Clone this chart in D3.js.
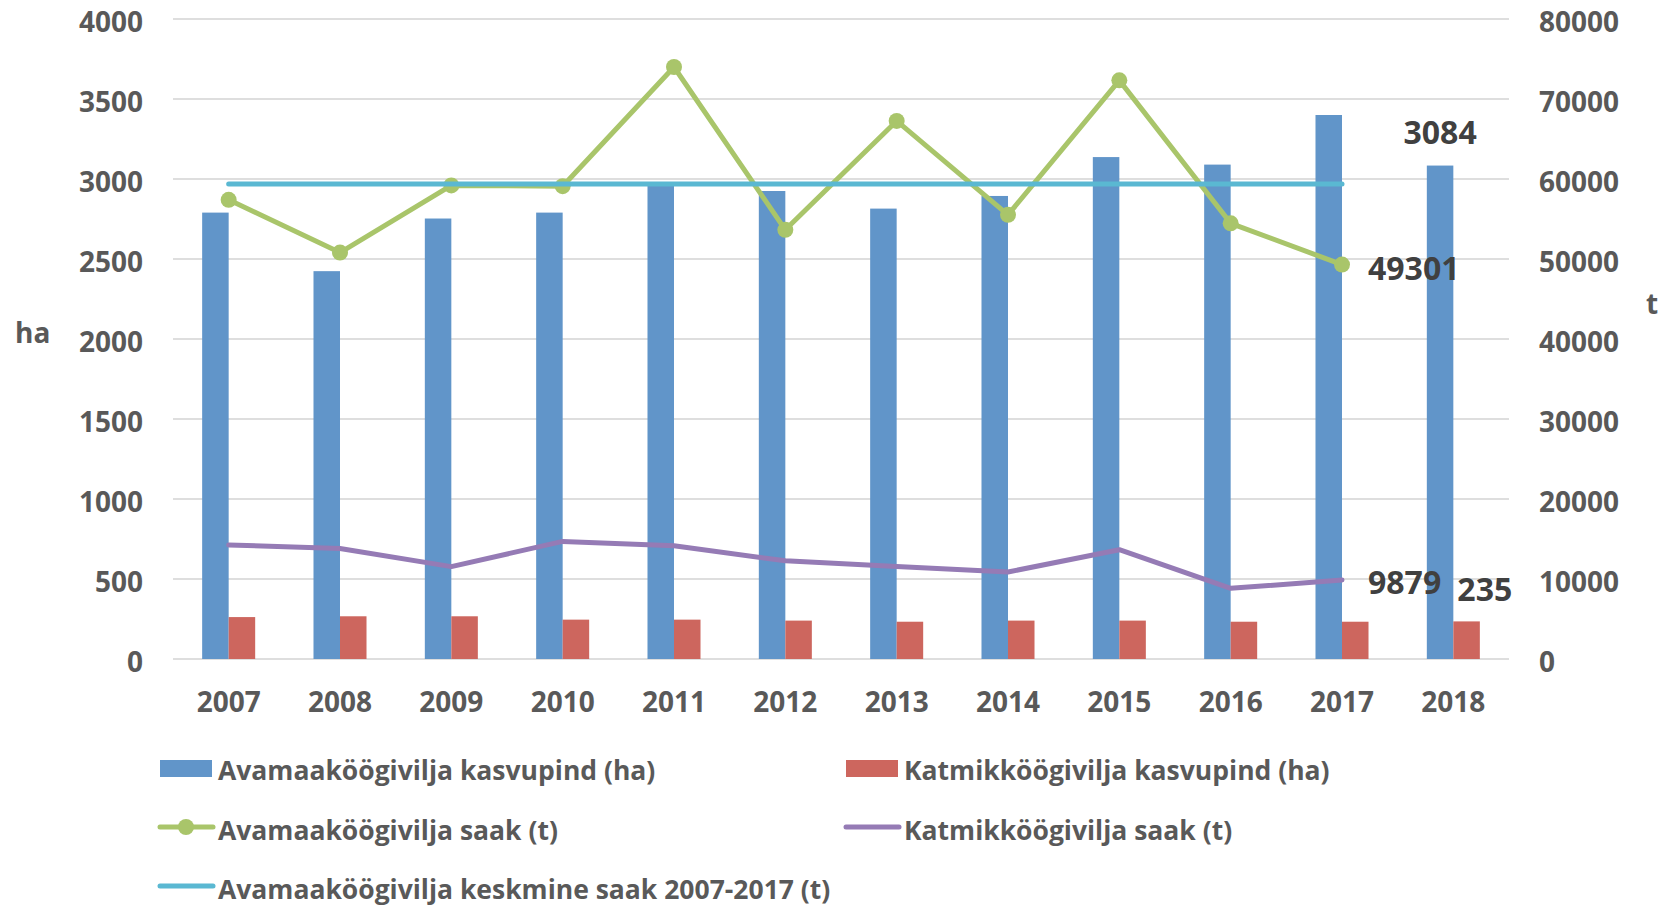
<!DOCTYPE html>
<html>
<head>
<meta charset="utf-8">
<script src="https://cdn.jsdelivr.net/npm/d3@7"></script>
<style>
	body { margin: 0; background: #fff; }
	svg { display: block; font-family: "Open Sans", "Noto Sans", sans-serif; font-weight: bold; }
</style>
</head>
<body>
<svg id="chart" width="1664" height="906"></svg>
<script>
// data
var years = ['2007', '2008', '2009', '2010', '2011', '2012', '2013', '2014', '2015', '2016', '2017', '2018'];
var avamaaHa = [2790, 2424, 2753, 2790, 2980, 2925, 2815, 2894, 3137, 3090, 3400, 3084];
var katmikHa = [262, 267, 267, 246, 246, 240, 233, 240, 240, 233, 233, 235];
var saakYears = ['2007', '2008', '2009', '2010', '2011', '2012', '2013', '2014', '2015', '2016', '2017'];
var avamaaSaak = [57400, 50800, 59200, 59100, 74000, 53650, 67260, 55520, 72330, 54460, 49301];
var katmikSaak = [14250, 13820, 11550, 14700, 14160, 12270, 11550, 10880, 13660, 8830, 9879];
var keskmineSaak = [59370, 59370, 59370, 59370, 59370, 59370, 59370, 59370, 59370, 59370, 59370];
var haTicks = [0, 500, 1000, 1500, 2000, 2500, 3000, 3500, 4000];
var tTicks = [0, 10000, 20000, 30000, 40000, 50000, 60000, 70000, 80000];

var legendItems = [
	{name: 'Avamaaköögivilja kasvupind (ha)', type: 'bar', color: '#6195c9'},
	{name: 'Katmikköögivilja kasvupind (ha)', type: 'bar', color: '#cd665e'},
	{name: 'Avamaaköögivilja saak (t)', type: 'marker', color: '#a9c56a'},
	{name: 'Katmikköögivilja saak (t)', type: 'line', color: '#957bb5'},
	{name: 'Avamaaköögivilja keskmine saak 2007-2017 (t)', type: 'line', color: '#5ab8d2'}
];

var svg = d3.select('#chart');
var plotLeft = 173, plotRight = 1509, plotTop = 19, plotBottom = 659;
var textColor = '#595959';
var fontFamily = '"Open Sans", "Noto Sans", sans-serif';

var x = d3.scaleBand().domain(years).range([plotLeft, plotRight]);
var xInner = d3.scaleBand().domain(['ava', 'kat']).range([0, x.bandwidth()]).paddingOuter(1.1);
var yHa = d3.scaleLinear().domain([0, 4000]).range([plotBottom, plotTop]);
var yT = d3.scaleLinear().domain([0, 80000]).range([plotBottom, plotTop]);

// gridlines
svg.append('g')
	.selectAll('line')
	.data(haTicks)
	.enter().append('line')
	.attr('x1', plotLeft).attr('x2', plotRight)
	.attr('y1', function(d){ return yHa(d); })
	.attr('y2', function(d){ return yHa(d); })
	.style('stroke', '#dedede')
	.style('stroke-width', 2);

// axes
var axisL = svg.append('g')
	.attr('transform', 'translate(' + plotLeft + ',0)')
	.call(d3.axisLeft(yHa).tickValues(haTicks).tickFormat(d3.format('d')).tickSize(0).tickPadding(30));
var axisR = svg.append('g')
	.attr('transform', 'translate(' + plotRight + ',0)')
	.call(d3.axisRight(yT).tickValues(tTicks).tickFormat(d3.format('d')).tickSize(0).tickPadding(30));
var axisB = svg.append('g')
	.attr('transform', 'translate(0,' + plotBottom + ')')
	.call(d3.axisBottom(x).tickSize(0).tickPadding(33));
[axisL, axisR, axisB].forEach(function(a){
	a.select('.domain').remove();
	a.attr('font-family', null).attr('font-size', null);
	a.selectAll('text')
		.style('font-family', fontFamily)
		.style('font-size', '28px')
		.style('font-weight', 'bold')
		.style('fill', textColor);
});
axisL.selectAll('text').attr('dy', '0.45em');
axisR.selectAll('text').attr('dy', '0.45em');
axisB.selectAll('text').attr('dy', '0.71em');

svg.append('text').text('ha')
	.attr('x', 15).attr('y', 343)
	.style('font-size', '28px').style('fill', textColor);
svg.append('text').text('t')
	.attr('x', 1646).attr('y', 314)
	.style('font-size', '28px').style('fill', textColor);

// bars
var bars = svg.append('g');
bars.selectAll('rect.ava')
	.data(years)
	.enter().append('rect')
	.attr('class', 'ava')
	.attr('x', function(d){ return x(d) + xInner('ava'); })
	.attr('width', xInner.bandwidth())
	.attr('y', function(d, i){ return yHa(avamaaHa[i]); })
	.attr('height', function(d, i){ return plotBottom - yHa(avamaaHa[i]); })
	.style('fill', legendItems[0].color);
bars.selectAll('rect.kat')
	.data(years)
	.enter().append('rect')
	.attr('class', 'kat')
	.attr('x', function(d){ return x(d) + xInner('kat'); })
	.attr('width', xInner.bandwidth())
	.attr('y', function(d, i){ return yHa(katmikHa[i]); })
	.attr('height', function(d, i){ return plotBottom - yHa(katmikHa[i]); })
	.style('fill', legendItems[1].color);

var cx = function(d){ return x(d) + x.bandwidth() / 2; };
function drawLine(values, color){
	var line = d3.line()
		.x(function(d, i){ return cx(saakYears[i]); })
		.y(function(d){ return yT(d); });
	svg.append('path')
		.datum(values)
		.attr('d', line)
		.style('fill', 'none')
		.style('stroke', color)
		.style('stroke-width', 5)
		.style('stroke-linejoin', 'round')
		.style('stroke-linecap', 'round');
}

drawLine(avamaaSaak, legendItems[2].color);
svg.append('g')
	.selectAll('circle')
	.data(avamaaSaak)
	.enter().append('circle')
	.attr('cx', function(d, i){ return cx(saakYears[i]); })
	.attr('cy', function(d){ return yT(d); })
	.attr('r', 8)
	.style('fill', legendItems[2].color);
drawLine(katmikSaak, legendItems[3].color);
drawLine(keskmineSaak, legendItems[4].color);

// data labels
var labelStyle = function(sel){
	sel.style('font-size', '32px').style('fill', '#404040');
};
var last = years.length - 1, lastT = saakYears.length - 1;
svg.append('text').text(avamaaHa[last])
	.attr('x', x(years[last]) + xInner('ava') + xInner.bandwidth() / 2).attr('y', yHa(avamaaHa[last]) - 22)
	.attr('text-anchor', 'middle').call(labelStyle);
svg.append('text').text(katmikHa[last])
	.attr('x', x(years[last]) + xInner('kat') + 4).attr('y', yHa(katmikHa[last]) - 20)
	.call(labelStyle);
svg.append('text').text(avamaaSaak[lastT])
	.attr('x', cx(saakYears[lastT]) + 26).attr('y', yT(avamaaSaak[lastT]) + 4)
	.attr('dy', '0.36em').call(labelStyle);
svg.append('text').text(katmikSaak[lastT])
	.attr('x', cx(saakYears[lastT]) + 26).attr('y', yT(katmikSaak[lastT]) + 3)
	.attr('dy', '0.36em').call(labelStyle);

// legend
var legendPos = [[160, 770], [846, 770], [160, 830], [846, 830], [160, 889]];
var legend = svg.append('g')
	.selectAll('g')
	.data(legendItems)
	.enter().append('g')
	.attr('transform', function(d, i){ return 'translate(' + legendPos[i][0] + ',' + legendPos[i][1] + ')'; });
legend.each(function(d){
	var g = d3.select(this);
	if (d.type == 'bar') {
		g.append('rect').attr('x', 0).attr('y', -10).attr('width', 52).attr('height', 17).style('fill', d.color);
	} else {
		g.append('line').attr('x1', 0).attr('x2', 53).attr('y1', -3).attr('y2', -3)
			.style('stroke', d.color).style('stroke-width', 5).style('stroke-linecap', 'round');
		if (d.type == 'marker')
			g.append('circle').attr('cx', 26).attr('cy', -3).attr('r', 8).style('fill', d.color);
	}
	g.append('text').text(d.name)
		.attr('x', 58).attr('dy', '0.36em')
		.style('font-size', '26.5px').style('fill', textColor);
});
</script>
</body>
</html>
